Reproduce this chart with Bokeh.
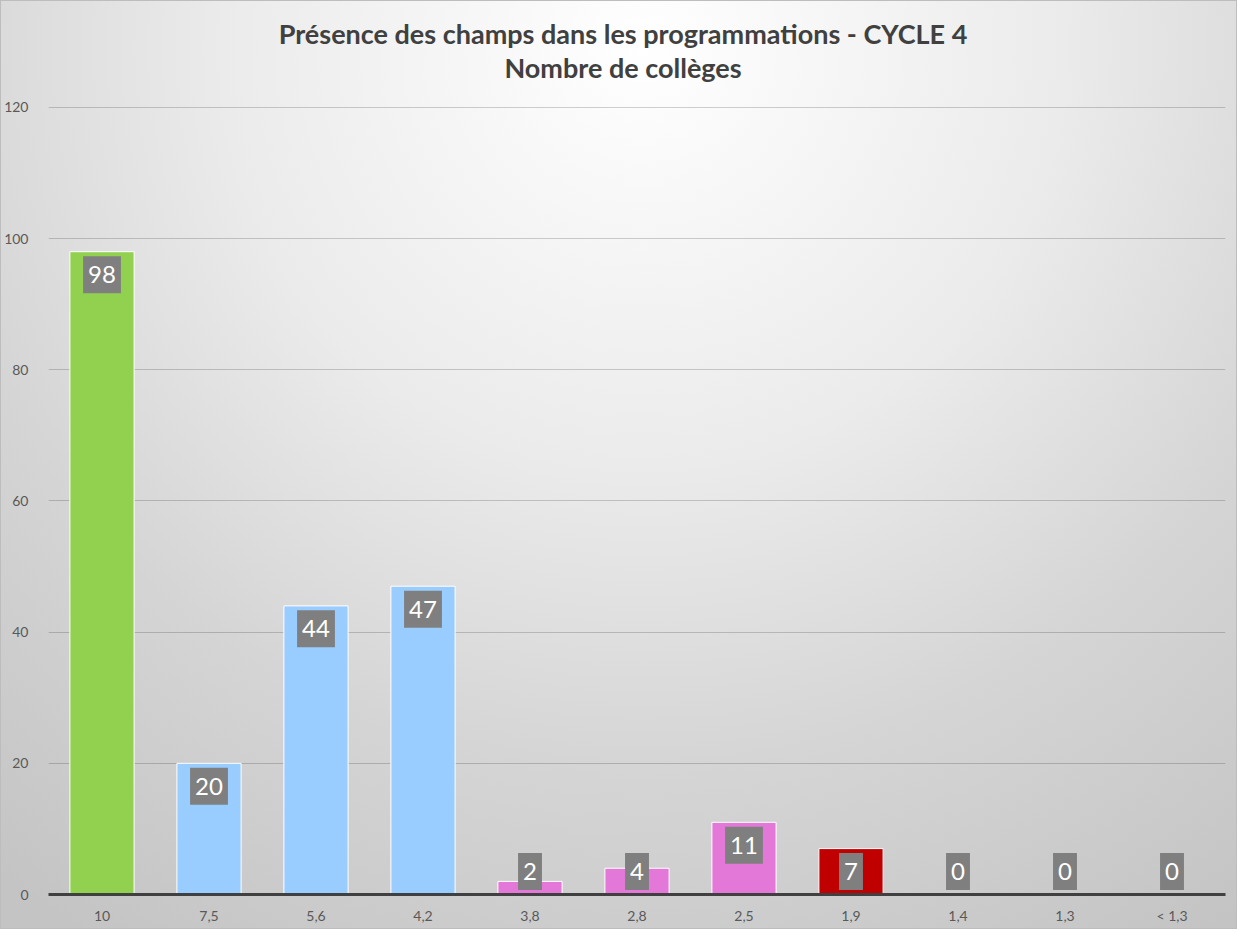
from bokeh.plotting import figure
from bokeh.models import Range1d, Label, ColumnDataSource, FixedTicker
from bokeh.embed import file_html
from bokeh.resources import INLINE
from bokeh.core.properties import value

categories = ["10", "7,5", "5,6", "4,2", "3,8", "2,8", "2,5", "1,9", "1,4", "1,3", "< 1,3"]
counts = [98, 20, 44, 47, 2, 4, 11, 7, 0, 0, 0]
colors = ["#92d050", "#99ccff", "#99ccff", "#99ccff", "#e478d8", "#e478d8",
          "#e478d8", "#c00000", "#e478d8", "#e478d8", "#e478d8"]
y_ticks = [0, 20, 40, 60, 80, 100, 120]
title_lines = ["Présence des champs dans les programmations - CYCLE 4", "Nombre de collèges"]

FONT = "Lato"

label_y = [max(v, 7) - 3.5 for v in counts]
src = ColumnDataSource(dict(cat=categories, v=counts, c=colors,
                            ly=label_y, lt=[str(v) for v in counts]))

# the plot frame spans the title area too; axis ticks/grid stop at 120
p = figure(x_range=categories, y_range=Range1d(0, 136.3),
           width=1237, height=929, output_backend="svg", toolbar_location=None,
           min_border_left=48, min_border_right=12, min_border_top=0, min_border_bottom=35)

p.styles = {
    "background-image": "radial-gradient(circle at 52% 5%, #ffffff 0px, #ebebeb 420px, #d5d5d5 720px, #c4c4c4 1050px)",
    "box-shadow": "inset 0 0 0 1px #bdbdbd",
}
p.background_fill_color = None
p.border_fill_color = None
p.outline_line_color = None

p.vbar(x="cat", top="v", width=0.6, source=src, fill_color="c",
       line_color="white", line_width=1)

p.text(x="cat", y="ly", text="lt", source=src, text_align="center", text_baseline="middle",
       text_color="white", text_font=value(FONT), text_font_size="24px",
       background_fill_color="#7f7f7f", padding=dict(left=5, right=5, top=10, bottom=10))

# Title lines, centred on the chart
for txt, ty in zip(title_lines, [131.3, 126.1]):
    p.add_layout(Label(x=len(categories) / 2, y=ty, x_offset=-14, text=txt,
                       text_align="center", text_baseline="middle",
                       text_font=FONT, text_font_size="27px", text_font_style="bold",
                       text_color="#404040"))

p.yaxis.ticker = FixedTicker(ticks=y_ticks)
p.yaxis.axis_line_color = None
p.yaxis.major_tick_line_color = None
p.yaxis.minor_tick_line_color = None
p.yaxis.major_label_text_font = FONT
p.yaxis.major_label_text_font_size = "14px"
p.yaxis.major_label_text_color = "#595959"
p.yaxis.major_label_standoff = 14

p.xaxis.axis_line_color = "#404040"
p.xaxis.axis_line_width = 3
p.xaxis.major_tick_line_color = None
p.xaxis.minor_tick_line_color = None
p.xaxis.major_label_text_font = FONT
p.xaxis.major_label_text_font_size = "14px"
p.xaxis.major_label_text_color = "#595959"
p.xaxis.major_label_standoff = 6

p.xgrid.grid_line_color = None
p.ygrid.ticker = FixedTicker(ticks=y_ticks)
p.ygrid.grid_line_color = "black"
p.ygrid.grid_line_alpha = 0.18
p.ygrid.grid_line_width = 1

open("out.html", "w").write(file_html(p, INLINE))
